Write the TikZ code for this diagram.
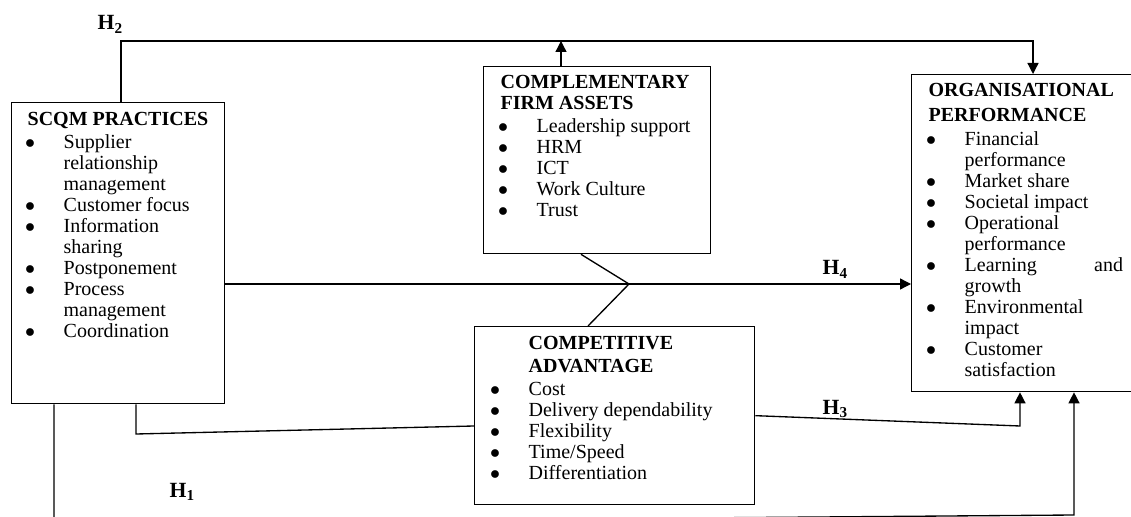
\documentclass[tikz,border=0pt]{standalone}
\usepackage{fontspec}
\setmainfont{Liberation Serif}
\usepackage{array}
\usepackage{tikz}
\usetikzlibrary{arrows.meta,calc}
\tikzset{blk/.style={draw,rectangle,inner sep=0pt,anchor=north west}}
\tikzset{lst/.style={inner sep=0pt,anchor=base west,font=\fontsize{12}{12.6}\selectfont}}
\tikzstyle{hyp}=[inner sep=0pt, anchor=base west, font=\fontsize{13}{14}\selectfont\bfseries]
\tikzstyle{arrow}=[-{Triangle[width=6.6pt,length=6.6pt]}]
\newcommand{\hd}[1]{\multicolumn{2}{@{}l@{}}{\textbf{#1}}}
\newcommand{\hy}[1]{H\textsubscript{#1}}
\newcommand{\bt}{\hspace*{-1.5pt}$\bullet$}

\begin{document}
\begin{tikzpicture}[x=0.6pt, y=-0.6pt, line width=0.8pt]
        \useasboundingbox (0,0) rectangle (1131,517);
        \node[blk, minimum width=127.8pt, minimum height=180.6pt] (sc) at (11,102) {};
        \node[blk, minimum width=136.2pt, minimum height=112.2pt] (cf) at (483,66) {};
        \node[blk, minimum width=168pt, minimum height=106.8pt] (ca) at (474,326) {};
        \node[blk, minimum width=134.4pt, minimum height=190.2pt] (op) at (911,74) {};
        \node[lst] (sct) at (27,126) {\begin{tabular}[t]{@{}p{21.6pt}@{}l@{}}
            \hd{SCQM PRACTICES}\\[1.2pt]
            \bt & Supplier\\
             & relationship\\
             & management\\
            \bt & Customer focus\\
            \bt & Information\\
             & sharing\\
            \bt & Postponement\\
            \bt & Process\\
             & management\\
            \bt & Coordination
        \end{tabular}};
        \node[lst] (cft) at (500,89) {\begin{tabular}[t]{@{}p{21.6pt}@{}l@{}}
            \hd{COMPLEMENTARY}\\
            \hd{FIRM ASSETS}\\[1.2pt]
            \bt & Leadership support\\
            \bt & HRM\\
            \bt & ICT\\
            \bt & Work Culture\\
            \bt & Trust
        \end{tabular}};
        \node[lst] (cat) at (492,350) {\begin{tabular}[t]{@{}p{21.6pt}@{}l@{}}
             & \textbf{COMPETITIVE}\\[1.2pt]
             & \textbf{ADVANTAGE}\\[1.2pt]
            \bt & Cost\\
            \bt & Delivery dependability\\
            \bt & Flexibility\\
            \bt & Time/Speed\\
            \bt & Differentiation
        \end{tabular}};
        \node[lst] (opt) at (928,97) {\begin{tabular}[t]{@{}p{21.6pt}@{}l@{}}
            \hd{ORGANISATIONAL}\\[2.4pt]
            \hd{PERFORMANCE}\\[1.8pt]
            \bt & Financial\\
             & performance\\
            \bt & Market share\\
            \bt & Societal impact\\
            \bt & Operational\\
             & performance\\
            \bt & \makebox[95pt][s]{Learning\hfill and}\\
             & growth\\
            \bt & Environmental\\
             & impact\\
            \bt & Customer\\
             & satisfaction
        \end{tabular}};
        \node[hyp] (h2t) at (97,30) {\hy{2}};
        \node[hyp] (h1t) at (169,497) {\hy{1}};
        \node[hyp] (h4t) at (822,275) {\hy{4}};
        \node[hyp] (h3t) at (822,414) {\hy{3}};
        \coordinate (h2l) at (121,41);
        \coordinate (h2r) at (1033,41);
        \coordinate (up) at (561,41);
        \coordinate (x) at (629,284);
        \coordinate (xa) at (581,0);
        \coordinate (xb) at (588,0);
        \coordinate (h3) at (1020,426);
        \coordinate (lk) at (136,434);
        \coordinate (lr) at (0,426);
        \coordinate (h1l) at (54,523);
        \coordinate (h1r) at (1074,515);
        \draw[arrow] (sc.north -| h2l) -- (h2l) -- (h2r) -- (op.north -| h2r);
        \draw[arrow] (cf.north -| up) -- (up);
        \draw[arrow] (sc.east |- x) -- (op.west |- x);
        \draw (cf.south -| xa) -- (x) -- (ca.north -| xb);
        \draw[arrow] (ca.east) -- (h3) -- (op.south -| h3);
        \draw (sc.south -| lk) -- (lk) -- (ca.west |- lr);
        \draw[arrow] (sc.south -| h1l) -- (h1l) -- (h1r) -- (op.south -| h1r);
\end{tikzpicture}
\end{document}
